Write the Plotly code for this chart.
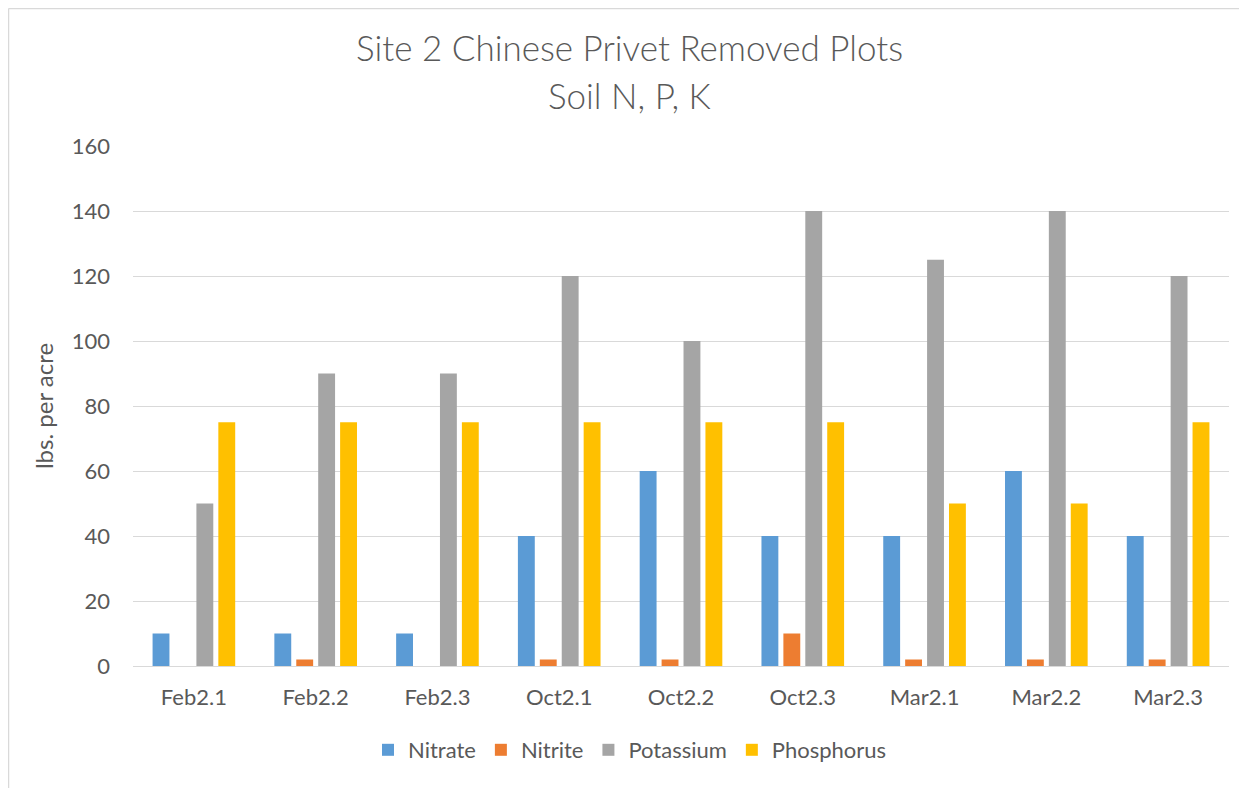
import plotly.graph_objects as go

categories = ["Feb2.1", "Feb2.2", "Feb2.3", "Oct2.1", "Oct2.2", "Oct2.3", "Mar2.1", "Mar2.2", "Mar2.3"]
nitrate = [10, 10, 10, 40, 60, 40, 40, 60, 40]
nitrite = [0, 2, 0, 2, 2, 10, 2, 2, 2]
potassium = [50, 90, 90, 120, 100, 140, 125, 140, 120]
phosphorus = [75, 75, 75, 75, 75, 75, 50, 50, 75]
y_ticks = [0, 20, 40, 60, 80, 100, 120, 140, 160]
title_lines = ["Site 2 Chinese Privet Removed Plots", "Soil N, P, K"]

series = [
    ("Nitrate", nitrate, "#5B9BD5"),
    ("Nitrite", nitrite, "#ED7D31"),
    ("Potassium", potassium, "#A5A5A5"),
    ("Phosphorus", phosphorus, "#FFC000"),
]

FONT = "Lato"
TXT = "#595959"
OFF = 8  # default body margin of the page

fig = go.Figure()
for name, vals, col in series:
    fig.add_trace(go.Bar(x=categories, y=vals, name=name, marker=dict(color=col, line=dict(width=0))))

# target page pixels
PL, PR, PT, PB = 133, 1229, 146, 666
W, H = 1247 - OFF, 788 - OFF
L, T = PL - OFF, PT - OFF
R = W - (PR - OFF)
B = H - (PB - OFF)
pw, ph = PR - PL, PB - PT


def py(page_y):
    return (PB - page_y) / ph


def px(page_x):
    return (page_x - PL) / pw


fig.update_layout(
    width=W, height=H,
    margin=dict(l=L, r=R, t=T, b=B),
    paper_bgcolor="white", plot_bgcolor="white",
    barmode="group", bargap=0.28, bargroupgap=0.23,
    font=dict(family=FONT, color=TXT, size=22),
    xaxis=dict(showgrid=False, showline=True, linecolor="#D9D9D9", linewidth=1,
               ticks="", tickfont=dict(size=22, color=TXT), ticklabelstandoff=12),
    yaxis=dict(range=[0, 160], tickvals=y_ticks, showgrid=True, gridcolor="#D9D9D9",
               gridwidth=1, zeroline=False, showline=False, ticks="",
               tickfont=dict(size=22, color=TXT), ticklabelstandoff=22,
               title=dict(text="lbs. per acre", font=dict(size=24, color=TXT), standoff=11)),
    legend=dict(orientation="h", x=px(630), xanchor="center", y=py(750), yanchor="middle",
                font=dict(size=22, color=TXT), itemwidth=30, traceorder="normal"),
    showlegend=True,
)

fig.add_annotation(text=title_lines[0], xref="paper", yref="paper", x=px(629), y=py(47),
                   xanchor="center", yanchor="middle", showarrow=False,
                   font=dict(family=FONT, size=35, color=TXT, weight=300))
fig.add_annotation(text=title_lines[1], xref="paper", yref="paper", x=px(629), y=py(95),
                   xanchor="center", yanchor="middle", showarrow=False,
                   font=dict(family=FONT, size=35, color=TXT, weight=300))

# chart border (left and top edges visible)
fig.add_shape(type="line", xref="paper", yref="paper",
              x0=px(OFF + 0.5), x1=px(OFF + 0.5), y0=py(800), y1=py(OFF + 0.5),
              line=dict(color="#D9D9D9", width=1.5))
fig.add_shape(type="line", xref="paper", yref="paper",
              x0=px(OFF + 0.5), x1=px(1260), y0=py(OFF + 0.5), y1=py(OFF + 0.5),
              line=dict(color="#D9D9D9", width=1.5))

fig.write_html("out.html")
